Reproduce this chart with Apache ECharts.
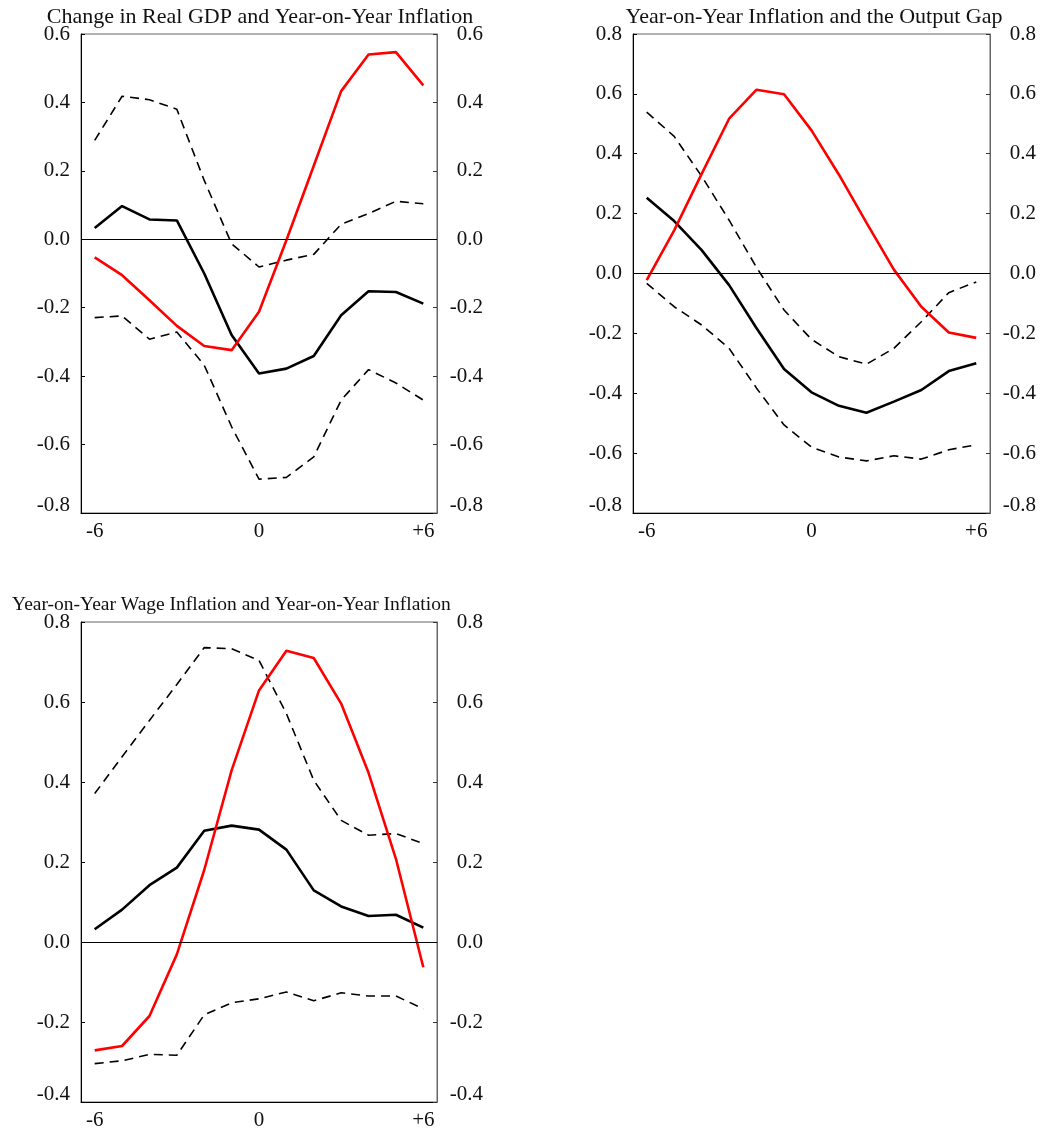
<!DOCTYPE html>
<html>
<head>
<meta charset="utf-8">
<script src="https://cdn.jsdelivr.net/npm/echarts@6/dist/echarts.min.js"></script>
<style>
  html, body { margin: 0; padding: 0; background: #fff; }
  #chart { width: 1043px; height: 1133px; }
</style>
</head>
<body>
<div id="chart"></div>
<script>
'use strict';

var lags = ['-6', '-5', '-4', '-3', '-2', '-1', '0', '1', '2', '3', '4', '5', '+6'];

// panel 1: Change in Real GDP and Year-on-Year Inflation
var p1Black = [0.033, 0.097, 0.058, 0.055, -0.100, -0.280, -0.392, -0.378, -0.341, -0.222, -0.152, -0.154, -0.188];
var p1Red = [-0.053, -0.105, -0.178, -0.253, -0.312, -0.324, -0.212, -0.003, 0.215, 0.433, 0.540, 0.547, 0.450];
var p1Upper = [0.289, 0.418, 0.408, 0.380, 0.172, -0.013, -0.081, -0.061, -0.044, 0.044, 0.075, 0.111, 0.104];
var p1Lower = [-0.229, -0.224, -0.292, -0.271, -0.368, -0.548, -0.701, -0.696, -0.636, -0.470, -0.381, -0.420, -0.470];

// panel 2: Year-on-Year Inflation and the Output Gap
var p2Black = [0.253, 0.175, 0.078, -0.039, -0.183, -0.319, -0.397, -0.442, -0.465, -0.428, -0.389, -0.326, -0.300];
var p2Red = [-0.022, 0.144, 0.333, 0.517, 0.614, 0.599, 0.478, 0.330, 0.170, 0.013, -0.111, -0.197, -0.215];
var p2Upper = [0.539, 0.458, 0.325, 0.178, 0.020, -0.122, -0.220, -0.278, -0.303, -0.250, -0.161, -0.064, -0.028];
var p2Lower = [-0.033, -0.111, -0.172, -0.250, -0.383, -0.506, -0.580, -0.613, -0.626, -0.609, -0.620, -0.589, -0.572];

// panel 3: Year-on-Year Wage Inflation and Year-on-Year Inflation
var p3Black = [0.032, 0.081, 0.142, 0.186, 0.278, 0.291, 0.281, 0.231, 0.129, 0.089, 0.065, 0.068, 0.036];
var p3Red = [-0.271, -0.260, -0.185, -0.031, 0.180, 0.429, 0.629, 0.728, 0.710, 0.596, 0.423, 0.208, -0.063];
var p3Upper = [0.371, 0.463, 0.554, 0.644, 0.736, 0.733, 0.704, 0.571, 0.404, 0.304, 0.267, 0.271, 0.246];
var p3Lower = [-0.304, -0.297, -0.281, -0.283, -0.182, -0.152, -0.142, -0.125, -0.147, -0.127, -0.135, -0.135, -0.167];

var font = "'Liberation Serif', 'Times New Roman', serif";
var labelSize = 21;

var panels = [
    { title: 'Change in Real GDP and Year-on-Year Inflation', grid: { left: 81, top: 34, width: 356, height: 479 }, min: -0.8, max: 0.6,
      titleX: 260, titleY: 6, titleSize: 22, titleAlign: 'center',
      black: p1Black, red: p1Red, upper: p1Upper, lower: p1Lower },
    { title: 'Year-on-Year Inflation and the Output Gap', grid: { left: 633, top: 34, width: 357, height: 479 }, min: -0.8, max: 0.8,
      titleX: 814, titleY: 6, titleSize: 22, titleAlign: 'center',
      black: p2Black, red: p2Red, upper: p2Upper, lower: p2Lower },
    { title: 'Year-on-Year Wage Inflation and Year-on-Year Inflation', grid: { left: 81, top: 622, width: 356, height: 480 }, min: -0.4, max: 0.8,
      titleX: 12, titleY: 595, titleSize: 19.5, titleAlign: 'left',
      black: p3Black, red: p3Red, upper: p3Upper, lower: p3Lower }
];

var option = {
    animation: false,
    backgroundColor: '#fff',
    title: [], grid: [], xAxis: [], yAxis: [], series: []
};

panels.forEach(function (p, i) {
    option.title.push({
        text: p.title, left: p.titleX, top: p.titleY, padding: 0, textAlign: p.titleAlign,
        textStyle: { fontFamily: font, fontSize: p.titleSize, fontWeight: 'normal', color: '#111' }
    });
    var g = p.grid;
    option.grid.push({ left: g.left, top: g.top, width: g.width, height: g.height, show: true,
        borderColor: '#666', borderWidth: 1, backgroundColor: 'transparent' });
    option.xAxis.push({
        type: 'category', gridIndex: i, data: lags, boundaryGap: true,
        axisLine: { onZero: false, lineStyle: { color: '#000', width: 1 } },
        axisTick: { inside: true, length: 5, alignWithLabel: true, interval: 0, lineStyle: { color: '#000' } },
        axisLabel: { interval: function (idx) { return idx % 6 === 0; }, margin: 8,
            fontFamily: font, fontSize: labelSize, color: '#111' },
        splitLine: { show: false }
    });
    var minVal = p.min;
    var fmt = function (v) {
        var s = v.toFixed(1);
        return Math.abs(v - minVal) < 1e-9 ? '{lo|' + s + '}' : s;
    };
    var rich = { lo: { fontFamily: font, fontSize: labelSize, color: '#111', padding: [0, 0, 16, 0] } };
    option.yAxis.push({
        type: 'value', gridIndex: i, min: p.min, max: p.max, interval: 0.2, position: 'left',
        axisLine: { show: true, lineStyle: { color: '#000' } },
        axisTick: { show: true, inside: true, length: 4, lineStyle: { color: '#000' } },
        axisLabel: { formatter: fmt, rich: rich, margin: 11, fontFamily: font, fontSize: labelSize, color: '#111' },
        splitLine: { show: false }
    });
    option.yAxis.push({
        type: 'value', gridIndex: i, min: p.min, max: p.max, interval: 0.2, position: 'right',
        axisLine: { show: true, lineStyle: { color: '#666' } },
        axisTick: { show: true, inside: true, length: 4, lineStyle: { color: '#333' } },
        axisLabel: { formatter: fmt, rich: rich, margin: 46, align: 'right', fontFamily: font, fontSize: labelSize, color: '#111' },
        splitLine: { show: false }
    });
    var yi = i * 2;
    var dash = { color: '#000', width: 1.6, type: [9, 6] };
    option.series.push({ type: 'line', xAxisIndex: i, yAxisIndex: yi, data: p.upper, symbol: 'none', lineStyle: dash,
        markLine: { silent: true, symbol: 'none', label: { show: false },
            lineStyle: { color: '#000', width: 1, type: 'solid' }, data: [{ yAxis: 0 }] } });
    option.series.push({ type: 'line', xAxisIndex: i, yAxisIndex: yi, data: p.lower, symbol: 'none', lineStyle: dash });
    option.series.push({ type: 'line', xAxisIndex: i, yAxisIndex: yi, data: p.black, symbol: 'none',
        lineStyle: { color: '#000', width: 2.6 } });
    option.series.push({ type: 'line', xAxisIndex: i, yAxisIndex: yi, data: p.red, symbol: 'none',
        lineStyle: { color: '#ff0000', width: 2.6 } });
});

var myChart = echarts.init(document.getElementById('chart'), null, { renderer: 'canvas' });
myChart.setOption(option);
window.addEventListener('resize', function () {
    myChart.resize();
});
</script>
</body>
</html>
